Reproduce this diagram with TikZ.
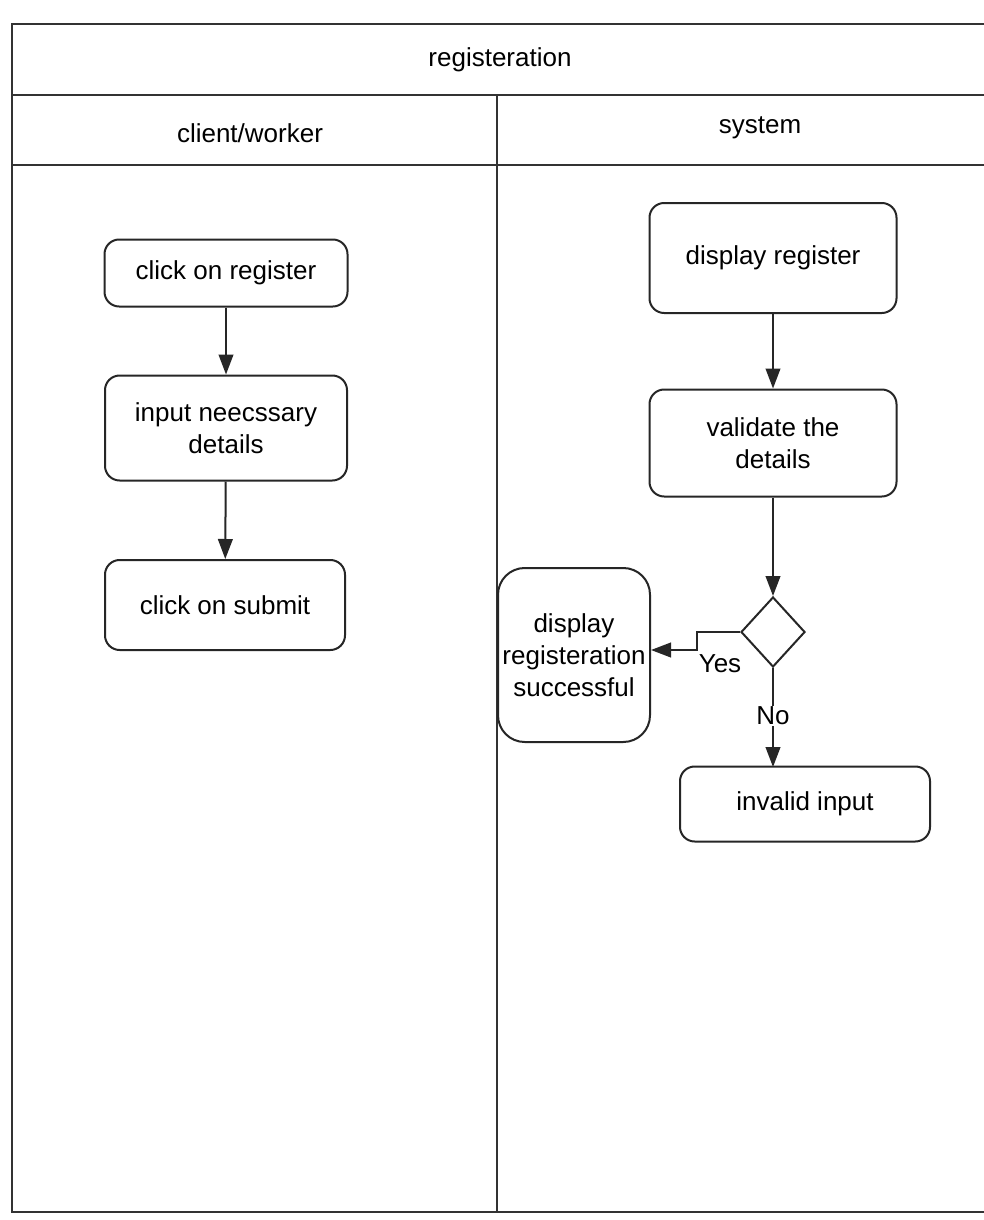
\documentclass[tikz,border=0pt]{standalone}
\usepackage{fontspec}
\setmainfont{Liberation Sans}
\usetikzlibrary{arrows.meta,shapes.geometric}
\begin{document}
\begin{tikzpicture}[x=0.75pt,y=-0.75pt,
  every node/.style={font=\fontsize{19.5}{24}\selectfont},
  lane/.style={draw=black!80,line width=1.6pt},
  act/.style={draw=black!85,line width=1.5pt,rounded corners=11pt,align=center,inner sep=0pt},
  flow/.style={draw=black!85,line width=1.5pt,-{Triangle[length=15pt,width=11pt]}},
  lbl/.style={fill=white,inner sep=1pt}]
\useasboundingbox (0,0) rectangle (984,1220);
\fill[white] (0,0) rectangle (984,1220);
% swimlane frame
\draw[lane] (12,24) rectangle (990,1212);
\draw[lane] (12,95) -- (990,95);
\draw[lane] (12,165) -- (990,165);
\draw[lane] (497,95) -- (497,1212);
\node (title) at (500,60) {registeration};
\node (lane1) at (250,133) {client/worker};
\node (lane2) at (760,128) {system};
% client lane
\node[act,minimum width=0.75*243pt,minimum height=0.75*67pt] (a1) at (226,273) {click on register};
\node[act,minimum width=0.75*242pt,minimum height=0.75*105pt] (a2) at (226,428) {input neecssary\\details};
\node[act,minimum width=0.75*240pt,minimum height=0.75*90pt] (a3) at (225,605) {click on submit};
% system lane
\node[act,minimum width=0.75*247pt,minimum height=0.75*110pt] (s1) at (773,258) {display register};
\node[act,minimum width=0.75*247pt,minimum height=0.75*107pt] (s2) at (773,443) {validate the\\details};
\node[draw=black!85,line width=1.5pt,diamond,minimum width=0.75*64pt,minimum height=0.75*70pt,inner sep=0pt] (d) at (773,632) {};
\node[act,rounded corners=20pt,minimum width=0.75*152pt,minimum height=0.75*174pt] (s3) at (574,655) {display\\registeration\\successful};
\node[act,minimum width=0.75*250pt,minimum height=0.75*75pt] (s4) at (805,804) {invalid input};
\coordinate (s4top) at (773,767);
\coordinate (yb1) at (697,632);
\coordinate (yb2) at (697,650);
% connectors
\draw[flow] (a1) -- (a2);
\draw[flow] (a2) -- (a3);
\draw[flow] (s1) -- (s2);
\draw[flow] (s2) -- (d);
\draw[flow] (d.west) -- (yb1) -- (yb2) -- (s3.east |- yb2);
\node (yes) at (720,664) {Yes};
\draw[flow] (d.south) -- (s4top);
\node[lbl] (no) at (773,716) {No};
\end{tikzpicture}
\end{document}
